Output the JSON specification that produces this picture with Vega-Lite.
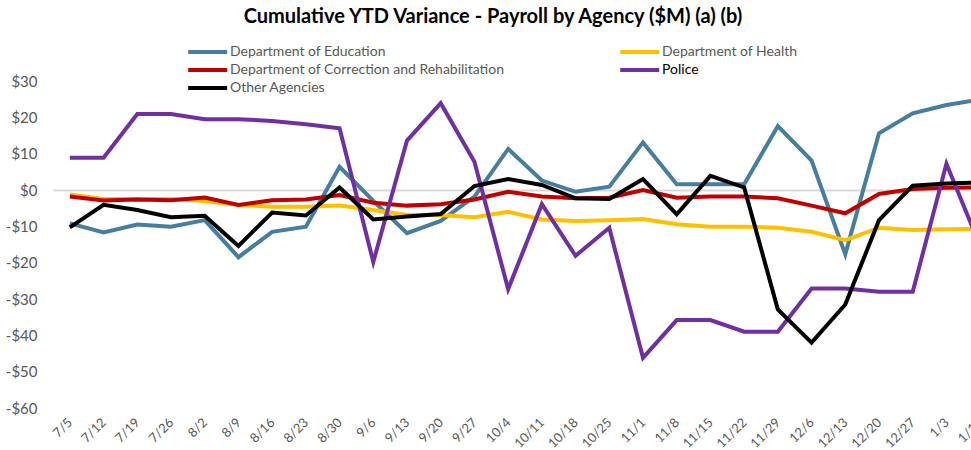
{
  "$schema": "https://vega.github.io/schema/vega-lite/v6.json",
  "width": 918,
  "height": 327,
  "autosize": {"type": "none"},
  "padding": {"left": 53, "top": 81, "right": 0, "bottom": 42},
  "background": "white",
  "config": {"view": {"stroke": null}, "font": "Lato"},
  "title": {"text": "Cumulative YTD Variance - Payroll by Agency ($M) (a) (b)", "fontSize": 20, "fontWeight": "bold", "color": "#000000", "anchor": "middle", "dx": -19, "offset": 15, "frame": "group"},
  "data": {"values": [
    {"week":"7/5","agency":"Department of Education","value":-9.2},
    {"week":"7/12","agency":"Department of Education","value":-11.7},
    {"week":"7/19","agency":"Department of Education","value":-9.5},
    {"week":"7/26","agency":"Department of Education","value":-10.1},
    {"week":"8/2","agency":"Department of Education","value":-8.3},
    {"week":"8/9","agency":"Department of Education","value":-18.5},
    {"week":"8/16","agency":"Department of Education","value":-11.5},
    {"week":"8/23","agency":"Department of Education","value":-10.1},
    {"week":"8/30","agency":"Department of Education","value":6.4},
    {"week":"9/6","agency":"Department of Education","value":-3.0},
    {"week":"9/13","agency":"Department of Education","value":-11.9},
    {"week":"9/20","agency":"Department of Education","value":-8.5},
    {"week":"9/27","agency":"Department of Education","value":-1.8},
    {"week":"10/4","agency":"Department of Education","value":11.3},
    {"week":"10/11","agency":"Department of Education","value":2.6},
    {"week":"10/18","agency":"Department of Education","value":-0.5},
    {"week":"10/25","agency":"Department of Education","value":0.9},
    {"week":"11/1","agency":"Department of Education","value":13.1},
    {"week":"11/8","agency":"Department of Education","value":1.6},
    {"week":"11/15","agency":"Department of Education","value":1.6},
    {"week":"11/22","agency":"Department of Education","value":1.6},
    {"week":"11/29","agency":"Department of Education","value":17.6},
    {"week":"12/6","agency":"Department of Education","value":8.1},
    {"week":"12/13","agency":"Department of Education","value":-17.7},
    {"week":"12/20","agency":"Department of Education","value":15.6},
    {"week":"12/27","agency":"Department of Education","value":21.1},
    {"week":"1/3","agency":"Department of Education","value":23.4},
    {"week":"1/10","agency":"Department of Education","value":24.9},

    {"week":"7/5","agency":"Department of Health","value":-1.2},
    {"week":"7/12","agency":"Department of Health","value":-2.5},
    {"week":"7/19","agency":"Department of Health","value":-2.5},
    {"week":"7/26","agency":"Department of Health","value":-2.5},
    {"week":"8/2","agency":"Department of Health","value":-3.0},
    {"week":"8/9","agency":"Department of Health","value":-4.1},
    {"week":"8/16","agency":"Department of Health","value":-4.6},
    {"week":"8/23","agency":"Department of Health","value":-4.6},
    {"week":"8/30","agency":"Department of Health","value":-4.3},
    {"week":"9/6","agency":"Department of Health","value":-5.5},
    {"week":"9/13","agency":"Department of Health","value":-6.9},
    {"week":"9/20","agency":"Department of Health","value":-6.9},
    {"week":"9/27","agency":"Department of Health","value":-7.5},
    {"week":"10/4","agency":"Department of Health","value":-6.0},
    {"week":"10/11","agency":"Department of Health","value":-8.1},
    {"week":"10/18","agency":"Department of Health","value":-8.5},
    {"week":"10/25","agency":"Department of Health","value":-8.3},
    {"week":"11/1","agency":"Department of Health","value":-8.0},
    {"week":"11/8","agency":"Department of Health","value":-9.4},
    {"week":"11/15","agency":"Department of Health","value":-10.1},
    {"week":"11/22","agency":"Department of Health","value":-10.1},
    {"week":"11/29","agency":"Department of Health","value":-10.4},
    {"week":"12/6","agency":"Department of Health","value":-11.5},
    {"week":"12/13","agency":"Department of Health","value":-13.8},
    {"week":"12/20","agency":"Department of Health","value":-10.4},
    {"week":"12/27","agency":"Department of Health","value":-11.0},
    {"week":"1/3","agency":"Department of Health","value":-10.8},
    {"week":"1/10","agency":"Department of Health","value":-10.7},

    {"week":"7/5","agency":"Department of Correction and Rehabilitation","value":-1.8},
    {"week":"7/12","agency":"Department of Correction and Rehabilitation","value":-2.9},
    {"week":"7/19","agency":"Department of Correction and Rehabilitation","value":-2.6},
    {"week":"7/26","agency":"Department of Correction and Rehabilitation","value":-2.8},
    {"week":"8/2","agency":"Department of Correction and Rehabilitation","value":-2.1},
    {"week":"8/9","agency":"Department of Correction and Rehabilitation","value":-4.1},
    {"week":"8/16","agency":"Department of Correction and Rehabilitation","value":-2.8},
    {"week":"8/23","agency":"Department of Correction and Rehabilitation","value":-2.6},
    {"week":"8/30","agency":"Department of Correction and Rehabilitation","value":-1.4},
    {"week":"9/6","agency":"Department of Correction and Rehabilitation","value":-3.5},
    {"week":"9/13","agency":"Department of Correction and Rehabilitation","value":-4.3},
    {"week":"9/20","agency":"Department of Correction and Rehabilitation","value":-3.9},
    {"week":"9/27","agency":"Department of Correction and Rehabilitation","value":-2.6},
    {"week":"10/4","agency":"Department of Correction and Rehabilitation","value":-0.5},
    {"week":"10/11","agency":"Department of Correction and Rehabilitation","value":-1.8},
    {"week":"10/18","agency":"Department of Correction and Rehabilitation","value":-2.3},
    {"week":"10/25","agency":"Department of Correction and Rehabilitation","value":-2.1},
    {"week":"11/1","agency":"Department of Correction and Rehabilitation","value":0.0},
    {"week":"11/8","agency":"Department of Correction and Rehabilitation","value":-2.1},
    {"week":"11/15","agency":"Department of Correction and Rehabilitation","value":-1.8},
    {"week":"11/22","agency":"Department of Correction and Rehabilitation","value":-1.8},
    {"week":"11/29","agency":"Department of Correction and Rehabilitation","value":-2.3},
    {"week":"12/6","agency":"Department of Correction and Rehabilitation","value":-4.3},
    {"week":"12/13","agency":"Department of Correction and Rehabilitation","value":-6.4},
    {"week":"12/20","agency":"Department of Correction and Rehabilitation","value":-1.1},
    {"week":"12/27","agency":"Department of Correction and Rehabilitation","value":0.3},
    {"week":"1/3","agency":"Department of Correction and Rehabilitation","value":0.6},
    {"week":"1/10","agency":"Department of Correction and Rehabilitation","value":0.7},

    {"week":"7/5","agency":"Police","value":8.9},
    {"week":"7/12","agency":"Police","value":8.9},
    {"week":"7/19","agency":"Police","value":20.9},
    {"week":"7/26","agency":"Police","value":20.9},
    {"week":"8/2","agency":"Police","value":19.5},
    {"week":"8/9","agency":"Police","value":19.5},
    {"week":"8/16","agency":"Police","value":19.0},
    {"week":"8/23","agency":"Police","value":18.1},
    {"week":"8/30","agency":"Police","value":17.0},
    {"week":"9/6","agency":"Police","value":-19.8},
    {"week":"9/13","agency":"Police","value":13.6},
    {"week":"9/20","agency":"Police","value":23.9},
    {"week":"9/27","agency":"Police","value":7.8},
    {"week":"10/4","agency":"Police","value":-27.3},
    {"week":"10/11","agency":"Police","value":-3.9},
    {"week":"10/18","agency":"Police","value":-18.1},
    {"week":"10/25","agency":"Police","value":-10.4},
    {"week":"11/1","agency":"Police","value":-46.2},
    {"week":"11/8","agency":"Police","value":-35.8},
    {"week":"11/15","agency":"Police","value":-35.8},
    {"week":"11/22","agency":"Police","value":-39.0},
    {"week":"11/29","agency":"Police","value":-39.0},
    {"week":"12/6","agency":"Police","value":-27.1},
    {"week":"12/13","agency":"Police","value":-27.1},
    {"week":"12/20","agency":"Police","value":-28.0},
    {"week":"12/27","agency":"Police","value":-28.0},
    {"week":"1/3","agency":"Police","value":7.2},
    {"week":"1/10","agency":"Police","value":-15.4},

    {"week":"7/5","agency":"Other Agencies","value":-10.3},
    {"week":"7/12","agency":"Other Agencies","value":-4.1},
    {"week":"7/19","agency":"Other Agencies","value":-5.5},
    {"week":"7/26","agency":"Other Agencies","value":-7.5},
    {"week":"8/2","agency":"Other Agencies","value":-7.1},
    {"week":"8/9","agency":"Other Agencies","value":-15.4},
    {"week":"8/16","agency":"Other Agencies","value":-6.2},
    {"week":"8/23","agency":"Other Agencies","value":-7.0},
    {"week":"8/30","agency":"Other Agencies","value":0.7},
    {"week":"9/6","agency":"Other Agencies","value":-8.1},
    {"week":"9/13","agency":"Other Agencies","value":-7.3},
    {"week":"9/20","agency":"Other Agencies","value":-6.6},
    {"week":"9/27","agency":"Other Agencies","value":1.1},
    {"week":"10/4","agency":"Other Agencies","value":3.0},
    {"week":"10/11","agency":"Other Agencies","value":1.4},
    {"week":"10/18","agency":"Other Agencies","value":-2.3},
    {"week":"10/25","agency":"Other Agencies","value":-2.5},
    {"week":"11/1","agency":"Other Agencies","value":3.0},
    {"week":"11/8","agency":"Other Agencies","value":-6.7},
    {"week":"11/15","agency":"Other Agencies","value":3.9},
    {"week":"11/22","agency":"Other Agencies","value":0.7},
    {"week":"11/29","agency":"Other Agencies","value":-32.9},
    {"week":"12/6","agency":"Other Agencies","value":-42.0},
    {"week":"12/13","agency":"Other Agencies","value":-31.5},
    {"week":"12/20","agency":"Other Agencies","value":-8.3},
    {"week":"12/27","agency":"Other Agencies","value":1.2},
    {"week":"1/3","agency":"Other Agencies","value":1.8},
    {"week":"1/10","agency":"Other Agencies","value":2.1}
  ]},
  "mark": {"type": "line", "strokeWidth": 4, "clip": true},
  "encoding": {
    "x": {
      "field": "week", "type": "ordinal", "sort": null,
      "scale": {"type": "point", "padding": 0.5, "range": [0, 944]},
      "axis": {"title": null, "domain": false, "ticks": false, "labelAngle": -45, "labelAlign": "right", "labelBaseline": "middle", "labelPadding": 12, "labelFontSize": 13, "labelColor": "#595959", "labelOverlap": false, "labelBound": false, "labelFlush": false}
    },
    "y": {
      "field": "value", "type": "quantitative",
      "scale": {"domain": [-60, 30], "nice": false, "zero": false},
      "axis": {"title": null, "domain": false, "ticks": false, "grid": true, "gridColor": "#d9d9d9", "gridWidth": 2, "gridOpacity": {"condition": {"test": "datum.value === 0", "value": 1}, "value": 0}, "values": [-60, -50, -40, -30, -20, -10, 0, 10, 20, 30], "labelExpr": "datum.value < 0 ? '-$' + abs(datum.value) : '$' + datum.value", "labelOverlap": false, "labelBound": false, "labelFlush": false, "labelPadding": 16, "labelFontSize": 15, "labelColor": "#595959"}
    },
    "color": {
      "field": "agency", "type": "nominal",
      "scale": {
        "domain": ["Department of Education", "Department of Health", "Department of Correction and Rehabilitation", "Police", "Other Agencies"],
        "range": ["#477D9E", "#FFC000", "#C00000", "#7030A0", "#000000"]
      },
      "legend": {
        "orient": "none", "legendX": 133, "legendY": -39, "direction": "horizontal", "columns": 2, "title": null,
        "symbolType": "M-1,0H4", "symbolSize": 243, "symbolStrokeWidth": 4, "symbolFillColor": "transparent",
        "labelFontSize": 14, "labelColor": "#595959", "labelOffset": 24, "rowPadding": 0, "columnPadding": 107, "labelLimit": 400, "padding": 0,
        "encode": {"labels": {"update": {"fill": {"signal": "datum.value === 'Police' ? '#000000' : '#595959'"}}}}
      }
    }
  }
}
